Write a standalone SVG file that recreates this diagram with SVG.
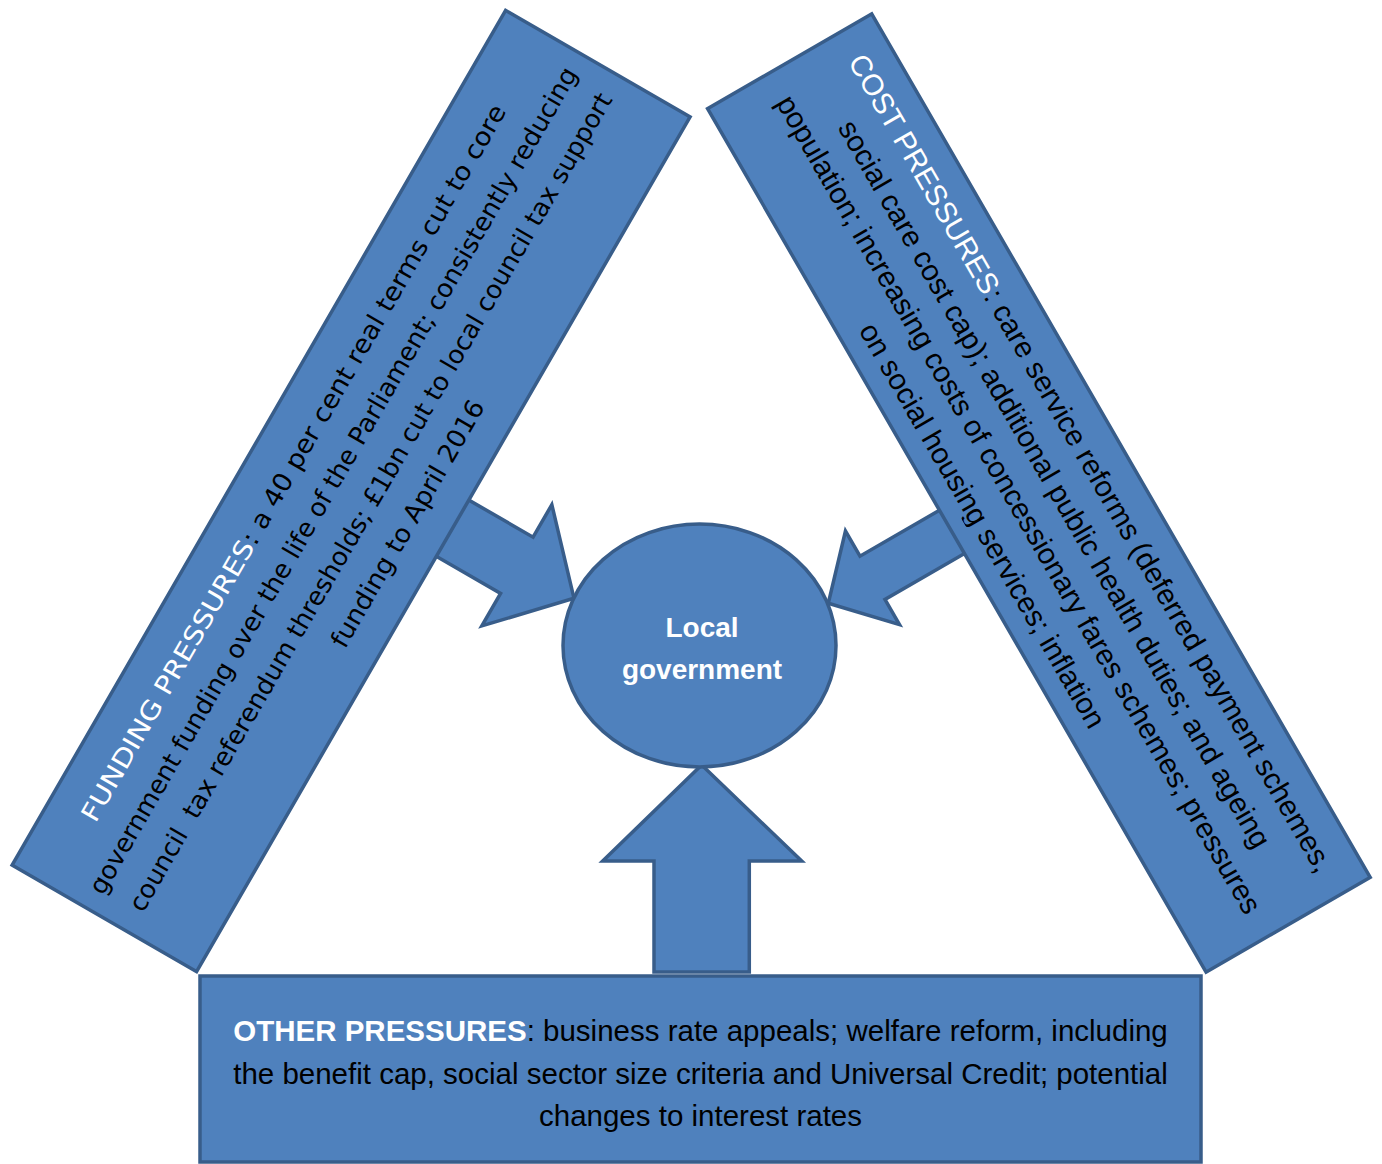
<svg xmlns="http://www.w3.org/2000/svg" width="1382" height="1164" viewBox="0 0 1382 1164">
  <style>
    .shape { fill: #4F81BD; stroke: #385D8A; stroke-width: 3.5; stroke-linejoin: miter; }
    .gothic { font-family: "DejaVu Sans", "Liberation Sans", sans-serif; font-size: 25.5px; fill: #000000; }
    .arial { font-family: "Liberation Sans", Arial, sans-serif; font-size: 29.5px; fill: #000000; }
    .head { fill: #FFFFFF; }
    .bold { font-weight: bold; }
    .center { font-family: "Liberation Sans", Arial, sans-serif; font-size: 28px; font-weight: bold; fill: #FFFFFF; }
  </style>
  <defs>
    <clipPath id="costClip" clipPathUnits="userSpaceOnUse">
      <rect x="-498" y="-94" width="996" height="174"/>
    </clipPath>
  </defs>

  <g id="connectors">
    <polygon class="shape" transform="translate(574,598.3) rotate(30)" points="0,0 -66,-70 -66,-32.5 -175,-32.5 -175,32.5 -66,32.5 -66,70"/>
    <polygon class="shape" transform="translate(828.3,603.3) rotate(150)" points="0,0 -51,-54 -51,-25 -175,-25 -175,25 -51,25 -51,54"/>
    <polygon class="shape" points="701.7,765 801.7,861 749.3,861 749.3,972 654,972 654,861 602.7,861"/>
  </g>

  <g id="funding-pressures" transform="translate(351.1,491) rotate(-60)">
    <rect class="shape" x="-493.5" y="-106.5" width="987" height="213"/>
    <text class="gothic" x="-416" y="-55"><tspan class="head" textLength="320" lengthAdjust="spacingAndGlyphs">FUNDING PRESSURES</tspan><tspan textLength="503" lengthAdjust="spacingAndGlyphs">: a 40 per cent real terms cut to core</tspan></text>
    <text class="gothic" text-anchor="middle" x="0" y="-12" textLength="950" lengthAdjust="spacingAndGlyphs">government funding over the life of the Parliament; consistently reducing</text>
    <text class="gothic" text-anchor="middle" x="0" y="31" textLength="940" lengthAdjust="spacingAndGlyphs" xml:space="preserve">council  tax referendum thresholds; £1bn cut to local council tax support</text>
    <text class="gothic" text-anchor="middle" x="0" y="74" textLength="281" lengthAdjust="spacingAndGlyphs">funding to April 2016</text>
  </g>

  <g id="cost-pressures" transform="translate(1038.9,493) rotate(60)">
    <rect class="shape" x="-498.5" y="-94.75" width="997" height="189.5"/>
    <g clip-path="url(#costClip)">
      <text class="arial" text-anchor="middle" x="0" y="-50"><tspan class="head">COST PRESSURES</tspan>: care service reforms (deferred payment schemes,</text>
      <text class="arial" text-anchor="middle" x="0" y="-8">social care cost cap); additional public health duties; and ageing</text>
      <text class="arial" text-anchor="middle" x="0" y="33">population; increasing costs of concessionary fares schemes; pressures</text>
      <text class="arial" text-anchor="middle" x="0" y="75">on social housing services; inflation</text>
    </g>
  </g>

  <g id="other-pressures">
    <rect class="shape" x="200" y="976" width="1001" height="186"/>
    <text class="arial" text-anchor="middle" x="700.5" y="1041"><tspan class="head bold">OTHER PRESSURES</tspan>: business rate appeals; welfare reform, including</text>
    <text class="arial" text-anchor="middle" x="700.5" y="1084">the benefit cap, social sector size criteria and Universal Credit; potential</text>
    <text class="arial" text-anchor="middle" x="700.5" y="1126">changes to interest rates</text>
  </g>

  <g id="local-government">
    <ellipse class="shape" cx="699.5" cy="645.5" rx="136.5" ry="121.5"/>
    <text class="center" text-anchor="middle" x="702" y="637">Local</text>
    <text class="center" text-anchor="middle" x="702" y="679">government</text>
  </g>
</svg>
